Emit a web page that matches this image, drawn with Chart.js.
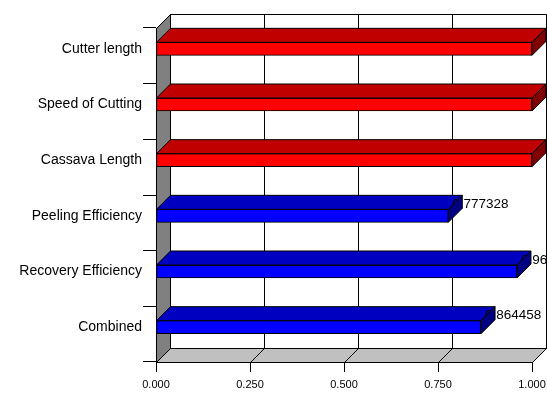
<!DOCTYPE html>
<html>
<head>
<meta charset="utf-8">
<script src="https://cdn.jsdelivr.net/npm/chart.js@4.4.1/dist/chart.umd.min.js"></script>
<style>
  html, body { margin: 0; padding: 0; background: #fff; }
  canvas { display: block; }
</style>
</head>
<body>
<canvas id="chart" width="547" height="394"></canvas>
<script>
// Categories, top to bottom
const categories = ['Cutter length', 'Speed of Cutting', 'Cassava Length',
                    'Peeling Efficiency', 'Recovery Efficiency', 'Combined'];
// Machine parameter scores (red bars)
const parameterScores = [1, 1, 1, null, null, null];
// Efficiency scores (blue bars, labelled with their values)
const efficiencyScores = [null, null, null, 0.777328, 0.96, 0.864458];
// Value axis ticks
const valueTicks = [0, 0.25, 0.5, 0.75, 1];

const DEPTH = 14;                 // depth of the 3-D box in pixels
const FONT = '"Liberation Sans", Arial, sans-serif';

const crisp = v => Math.round(v) + 0.5;

function poly(ctx, pts, fill) {
  ctx.beginPath();
  ctx.moveTo(pts[0][0], pts[0][1]);
  for (let i = 1; i < pts.length; i++) ctx.lineTo(pts[i][0], pts[i][1]);
  ctx.closePath();
  if (fill) { ctx.fillStyle = fill; ctx.fill(); }
  ctx.stroke();
}

function line(ctx, x1, y1, x2, y2) {
  ctx.beginPath();
  ctx.moveTo(x1, y1);
  ctx.lineTo(x2, y2);
  ctx.stroke();
}

// Draws the walls, floor and the 3-D faces of every bar
const box3d = {
  id: 'box3d',
  afterDatasetsUpdate(chart) {
    // bars sit half a depth behind the front plane
    chart.data.datasets.forEach((ds, i) => {
      chart.getDatasetMeta(i).data.forEach(el => { el.y -= DEPTH / 2; });
    });
  },
  beforeDraw(chart) {
    const { ctx, chartArea: a, scales: { x } } = chart;
    const L = crisp(a.left), R = crisp(a.right), T = crisp(a.top), B = crisp(a.bottom);
    ctx.save();
    ctx.lineWidth = 1;
    ctx.strokeStyle = '#000';
    // back wall
    poly(ctx, [[L + DEPTH, T - DEPTH], [R + DEPTH, T - DEPTH], [R + DEPTH, B - DEPTH], [L + DEPTH, B - DEPTH]], '#ffffff');
    // side wall
    poly(ctx, [[L, T], [L + DEPTH, T - DEPTH], [L + DEPTH, B - DEPTH], [L, B]], '#808080');
    // floor
    poly(ctx, [[L, B], [L + DEPTH, B - DEPTH], [R + DEPTH, B - DEPTH], [R, B]], '#c0c0c0');
    // gridlines on the back wall and across the floor
    valueTicks.forEach(v => {
      const px = crisp(x.getPixelForValue(v));
      line(ctx, px + DEPTH, T - DEPTH, px + DEPTH, B - DEPTH);
      line(ctx, px, B, px + DEPTH, B - DEPTH);
    });
    ctx.restore();
  },
  afterDatasetsDraw(chart) {
    const { ctx } = chart;
    ctx.save();
    ctx.lineWidth = 1;
    ctx.strokeStyle = '#000';
    chart.data.datasets.forEach((ds, i) => {
      const meta = chart.getDatasetMeta(i);
      meta.data.forEach((el, j) => {
        const v = ds.data[j];
        if (v === null || v === undefined) return;
        const x0 = el.base, x1 = el.x;
        const yT = el.y - el.height / 2, yB = el.y + el.height / 2;
        // top face
        poly(ctx, [[x0, yT], [x0 + DEPTH, yT - DEPTH], [x1 + DEPTH, yT - DEPTH], [x1, yT]], ds.topColor);
        // value label, partly covered by the end face
        if (ds.showValues) {
          ctx.fillStyle = '#000';
          ctx.font = '13.5px ' + FONT;
          ctx.textAlign = 'left';
          ctx.textBaseline = 'middle';
          ctx.fillText(String(v), x1 + 4, yT - 5);
        }
        // end face
        poly(ctx, [[x1, yT], [x1 + DEPTH, yT - DEPTH], [x1 + DEPTH, yB - DEPTH], [x1, yB]], ds.sideColor);
      });
    });
    ctx.restore();
  }
};

new Chart(document.getElementById('chart'), {
  type: 'bar',
  data: {
    labels: categories,
    datasets: [
      {
        data: parameterScores,
        backgroundColor: '#ff0000',
        topColor: '#c00000',
        sideColor: '#800000',
        borderColor: '#000',
        borderWidth: 1,
        borderSkipped: false,
        barThickness: 13,
        grouped: false,
        showValues: false
      },
      {
        data: efficiencyScores,
        backgroundColor: '#0000ff',
        topColor: '#0000c0',
        sideColor: '#000080',
        borderColor: '#000',
        borderWidth: 1,
        borderSkipped: false,
        barThickness: 13,
        grouped: false,
        showValues: true
      }
    ]
  },
  options: {
    indexAxis: 'y',
    responsive: false,
    animation: false,
    events: [],
    layout: { padding: { top: 28, right: 15, left: 0, bottom: 0 } },
    plugins: { legend: { display: false }, tooltip: { enabled: false } },
    scales: {
      x: {
        min: 0,
        max: 1,
        afterBuildTicks: s => { s.ticks = valueTicks.map(v => ({ value: v })); },
        afterFit: s => { s.height = 32; s.paddingLeft = 0; s.paddingRight = 0; },
        grid: { drawOnChartArea: false, color: '#000', tickLength: 10 },
        border: { display: true, color: '#000', width: 1 },
        ticks: {
          color: '#000',
          font: { family: FONT, size: 11 },
          padding: 6,
          maxRotation: 0,
          callback: v => Number(v).toFixed(3)
        }
      },
      y: {
        afterFit: s => { s.width = 156; s.paddingTop = 0; s.paddingBottom = 0; },
        grid: { drawOnChartArea: false, color: '#000', tickLength: 13, offset: true },
        border: { display: true, color: '#000', width: 1 },
        ticks: {
          color: '#000',
          font: { family: FONT, size: 14 },
          padding: 1,
          labelOffset: -DEPTH / 2
        }
      }
    }
  },
  plugins: [box3d]
});
</script>
</body>
</html>
